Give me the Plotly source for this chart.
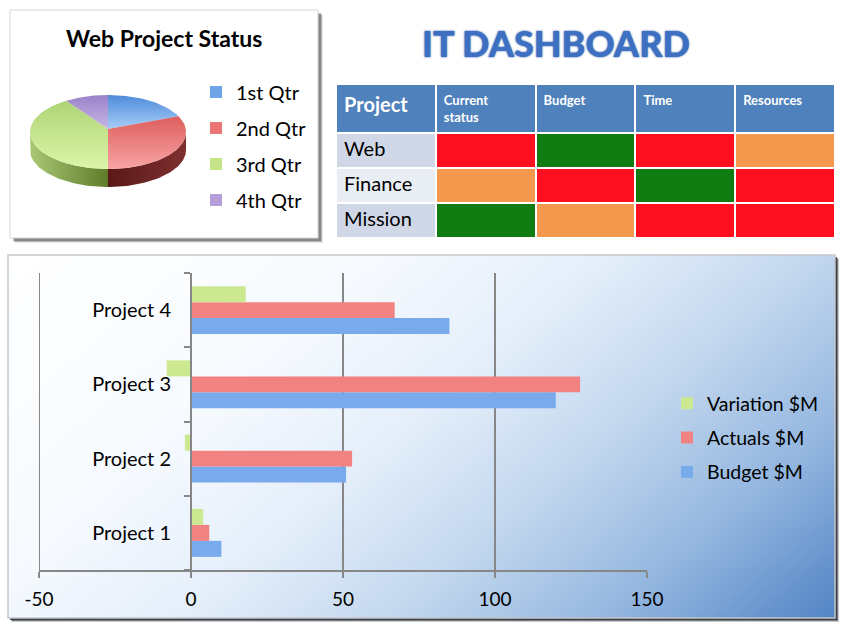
import numpy as np
import plotly.graph_objects as go

W, H = 846, 628
FONT = "Lato"

# ---------------- data ----------------
projects = ["Project 1", "Project 2", "Project 3", "Project 4"]
budget = [10, 51, 120, 85]
actuals = [6, 53, 128, 67]
variation = [4, -2, -8, 18]
x_tick_values = [-50, 0, 50, 100, 150]
x_tick_labels = ["-50", "0", "50", "100", "150"]

pie_labels = ["1st Qtr", "2nd Qtr", "3rd Qtr", "4th Qtr"]
pie_values = [18, 32, 41, 9]

table_projects = ["Web", "Finance", "Mission"]
table_headers = ["Project", "Current<br>status", "Budget", "Time", "Resources"]
current_status = ["Red", "Orange", "Green"]
budget_status = ["Green", "Red", "Orange"]
time_status = ["Red", "Green", "Red"]
resources_status = ["Orange", "Red", "Red"]

# ---------------- styles ----------------
STATUS_COLORS = {"Red": "#fe1020", "Green": "#107c12", "Orange": "#f4984e"}
GRID = "#878787"


def px(x):
    return x / W


def py(y):
    return 1 - y / H


fig = go.Figure()

# ---- background gradient of the bar-chart panel (decoration) ----
n = 40
gu = np.linspace(0, 1, n)
gv = np.linspace(0, 1, n)
UU, VV = np.meshgrid(gu, gv)
bg_z = 0.66 * UU + 0.34 * (1 - VV)
fig.add_trace(go.Heatmap(
    x=gu, y=gv, z=bg_z, zsmooth="best", showscale=False, hoverinfo="skip",
    zmin=0, zmax=1,
    colorscale=[[0, "#ffffff"], [0.3, "#f6fafe"], [0.48, "#e4eefa"],
                [0.64, "#c4d8ef"], [0.82, "#93b6df"], [1, "#5283c5"]],
    xaxis="x", yaxis="y"))

# ---- bar chart ----
bar_specs = [("Budget $M", budget, "#78aaec", 3),
             ("Actuals $M", actuals, "#f08282", 2),
             ("Variation $M", variation, "#cce992", 1)]
for name, vals, col, rank in bar_specs:
    fig.add_trace(go.Bar(
        y=projects, x=vals, orientation="h", name=name,
        marker=dict(color=col, line=dict(width=0)),
        legendgroup=name, legendrank=rank,
        xaxis="x2", yaxis="y2", legend="legend"))

# ---- 3-D style pie drawn as filled polygons ----
cx, cy, rx, ry, depth = 108, 132, 78, 37, 18
vx, vy = 108, 129
top_cols = [("#a7cdf8", "#4f8bd9"), ("#f8a4a4", "#de5e5e"),
            ("#dcf5a8", "#aed476"), ("#c8b6e6", "#9a82c8")]
side_cols = [("#3c6fb8", "#2c5a9c"), ("#5a1818", "#7e3030"),
             ("#a9c874", "#5e7c2a"), ("#7a60a8", "#5a4888")]
legend_cols = ["#6fa2e6", "#e97474", "#c4e48a", "#b49ed8"]
total = float(sum(pie_values))
cum = np.cumsum([0] + pie_values) / total * 360.0


def arc(a0, a1, dy=0.0, k=60):
    t = np.radians(np.linspace(a0, a1, k))
    return cx + rx * np.sin(t), cy - ry * np.cos(t) + dy


# side faces (visible part between 90 and 270 degrees)
for i in range(len(pie_values)):
    s, e = max(cum[i], 90.0), min(cum[i + 1], 270.0)
    if e <= s:
        continue
    tx, ty = arc(s, e)
    bx, by = arc(e, s, depth)
    xs = np.concatenate([tx, bx, tx[:1]])
    ys = np.concatenate([ty, by, ty[:1]])
    c_left, c_right = side_cols[i]
    fig.add_trace(go.Scatter(
        x=xs, y=ys, mode="lines", fill="toself", line=dict(width=0),
        fillcolor=c_left,
        fillgradient=dict(type="horizontal",
                          colorscale=[[0, c_left], [1, c_right]]),
        hoverinfo="skip", showlegend=False, xaxis="x3", yaxis="y3"))

# top faces
for i, lab in enumerate(pie_labels):
    tx, ty = arc(cum[i], cum[i + 1])
    xs = np.concatenate([[vx], tx, [vx]])
    ys = np.concatenate([[vy], ty, [vy]])
    c_top, c_bot = top_cols[i]
    fig.add_trace(go.Scatter(
        x=xs, y=ys, mode="lines", fill="toself", line=dict(width=0),
        fillcolor=c_bot, name=lab,
        fillgradient=dict(type="vertical",
                          colorscale=[[0, c_top], [1, c_bot]]),
        hoverinfo="skip", showlegend=False, xaxis="x3", yaxis="y3"))
    # legend entry (square marker)
    fig.add_trace(go.Scatter(
        x=[None], y=[None], mode="markers", name=lab,
        marker=dict(symbol="square", size=12, color=legend_cols[i]),
        showlegend=True, legend="legend2", legendgroup=lab,
        xaxis="x3", yaxis="y3"))

# ---- status table ----
status_cols = [current_status, budget_status, time_status, resources_status]
fill_cols = [["#d0d8e8", "#e9edf4", "#d0d8e8"]] + \
    [[STATUS_COLORS[s] for s in col] for col in status_cols]
fig.add_trace(go.Table(
    domain=dict(x=[px(336), px(836)], y=[py(238), py(84)]),
    columnwidth=[1, 1, 1, 1, 1],
    header=dict(values=["<b>%s</b>" % h for h in table_headers],
                fill_color="#4f81bd", align="left", height=47,
                line=dict(color="white", width=2),
                font=dict(family=FONT, color="white",
                          size=[20, 13, 13, 13, 13])),
    cells=dict(values=[table_projects] + [[""] * 3 for _ in status_cols],
               fill_color=fill_cols, align="left", height=35,
               line=dict(color="white", width=2),
               font=dict(family=FONT, color="black", size=20))))

# ---------------- shapes ----------------
shapes = []
# pie panel shadow + panel
for off, op in [(5, 0.10), (4, 0.18), (3, 0.28)]:
    shapes.append(dict(type="rect", xref="paper", yref="paper",
                       x0=px(10 + off), x1=px(318 + off),
                       y0=py(238 + off), y1=py(10 + off),
                       fillcolor="rgba(0,0,0,%s)" % op, line=dict(width=0),
                       layer="below"))
shapes.append(dict(type="rect", xref="paper", yref="paper",
                   x0=px(10), x1=px(318), y0=py(238), y1=py(10),
                   fillcolor="white", line=dict(color="#d6d6d6", width=1),
                   layer="below"))
# chart panel shadow
for off, op in [(4, 0.25), (3, 0.45), (2, 0.7)]:
    shapes.append(dict(type="rect", xref="paper", yref="paper",
                       x0=px(8 + off), x1=px(835 + off),
                       y0=py(618 + off), y1=py(255 + off),
                       fillcolor="rgba(30,35,45,%s)" % op, line=dict(width=0),
                       layer="below"))
shapes.append(dict(type="rect", xref="paper", yref="paper",
                   x0=px(8), x1=px(835), y0=py(618), y1=py(255),
                   fillcolor="rgba(0,0,0,0)",
                   line=dict(color="#c4c8cc", width=1.5), layer="above"))
# gridline at the left end of the value axis (hidden by plotly at the edge)
shapes.append(dict(type="line", xref="x2", yref="y2 domain",
                   x0=x_tick_values[0], x1=x_tick_values[0], y0=0, y1=1,
                   line=dict(color=GRID, width=2), layer="above"))

fig.update_layout(
    width=W, height=H, margin=dict(l=0, r=0, t=0, b=0, autoexpand=False),
    paper_bgcolor="white", plot_bgcolor="rgba(0,0,0,0)",
    font=dict(family=FONT, size=19, color="black"),
    barmode="group", bargap=0.354, bargroupgap=0,
    shapes=shapes,
    xaxis=dict(domain=[px(8), px(835)], range=[0, 1], visible=False,
               fixedrange=True, automargin=False),
    yaxis=dict(domain=[py(618), py(255)], range=[0, 1], visible=False,
               fixedrange=True, automargin=False),
    xaxis2=dict(domain=[px(39), px(647)], range=[-50, 150], anchor="y2",
                automargin=False,
                tickvals=x_tick_values, ticktext=x_tick_labels,
                showgrid=True,
                gridcolor=GRID, gridwidth=2, zeroline=False,
                showline=True, linecolor=GRID, linewidth=2,
                ticks="outside", ticklen=6, tickwidth=2, tickcolor=GRID,
                ticklabelstandoff=5,
                tickfont=dict(size=19, family=FONT, color="black")),
    yaxis2=dict(domain=[py(570), py(273)], anchor="free", position=px(191),
                automargin=False,
                categoryorder="array", categoryarray=projects,
                showgrid=False, zeroline=False, showline=True,
                linecolor=GRID, linewidth=2, ticks="outside",
                tickson="boundaries", ticklen=6, tickwidth=2, tickcolor=GRID,
                ticklabelstandoff=15,
                tickfont=dict(size=20, family=FONT, color="black")),
    xaxis3=dict(domain=[0, px(330)], range=[0, 330], visible=False,
                anchor="y3", automargin=False),
    yaxis3=dict(domain=[py(250), 1], range=[250, 0], visible=False,
                anchor="x3", automargin=False),
    legend=dict(x=px(667), y=py(438), xanchor="left", yanchor="middle",
                traceorder="grouped", tracegroupgap=6,
                bgcolor="rgba(0,0,0,0)", itemwidth=30,
                font=dict(size=19.5, family=FONT, color="black")),
    legend2=dict(x=px(196), y=py(146), xanchor="left", yanchor="middle",
                 traceorder="grouped", tracegroupgap=7,
                 bgcolor="rgba(0,0,0,0)", itemwidth=30,
                 font=dict(size=20, family=FONT, color="black")),
    annotations=[
        dict(text="<b>Web Project Status</b>", xref="paper", yref="paper",
             x=px(164), y=py(38), showarrow=False, xanchor="center",
             yanchor="middle", font=dict(size=23, family=FONT, color="black")),
        dict(text="IT DASHBOARD", xref="paper", yref="paper",
             x=px(556), y=py(43), showarrow=False, xanchor="center",
             yanchor="middle",
             font=dict(size=36, family=FONT, color="#3d70c2", weight=900,
                       shadow="0px 0px 2px #1a4594")),
    ],
)

fig.write_html("out.html")
